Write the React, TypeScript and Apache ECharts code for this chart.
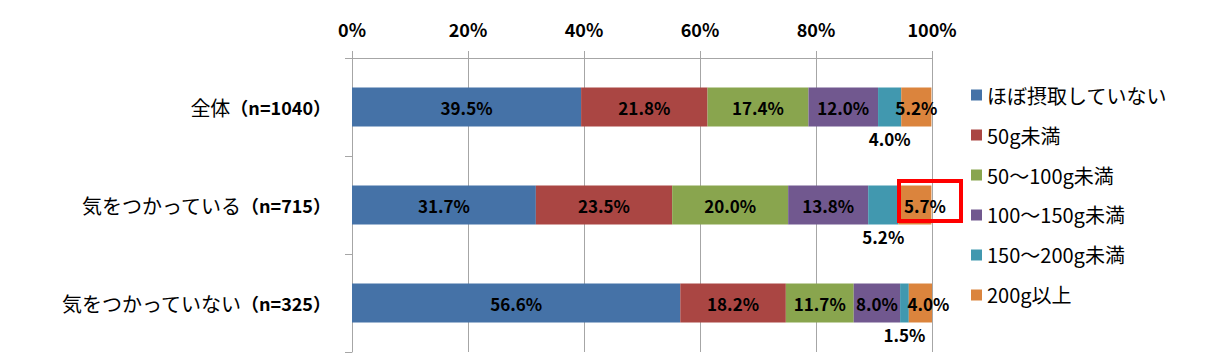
import React, { useEffect, useRef } from "react";
import * as echarts from "echarts";

const categories = ["全体（n=1040）", "気をつかっている（n=715）", "気をつかっていない（n=325）"];
const seriesNames = ["ほぼ摂取していない", "50g未満", "50～100g未満", "100～150g未満", "150～200g未満", "200g以上"];
const almostNone = [39.5, 31.7, 56.6];
const under50 = [21.8, 23.5, 18.2];
const from50to100 = [17.4, 20.0, 11.7];
const from100to150 = [12.0, 13.8, 8.0];
const from150to200 = [4.0, 5.2, 1.5];
const over200 = [5.2, 5.7, 4.0];
const colors = ["#4572A7", "#AA4643", "#89A54E", "#71588F", "#4198AF", "#DB843D"];
const xTicks = [0, 20, 40, 60, 80, 100];
// horizontal nudges of the last series' labels (style only)
const lastLabelShift = [0, 10, 8];

const FONT = "'Noto Sans CJK JP', 'Noto Sans', sans-serif";

export default function App() {
  const ref = useRef<HTMLDivElement>(null);
  useEffect(() => {
    const chart = echarts.init(ref.current!, null, { renderer: "svg" });
    const values = [almostNone, under50, from50to100, from100to150, from150to200, over200];
    const series = values.map((vals, i) => ({
      name: seriesNames[i],
      type: "bar",
      stack: "total",
      barWidth: 39,
      data:
        i === 5
          ? vals.map((v, j) => ({ value: v, label: { offset: [lastLabelShift[j], 0] } }))
          : vals,
      itemStyle: { color: colors[i] },
      label: {
        show: true,
        position: i === 4 ? "bottom" : "inside",
        distance: 3,
        formatter: (p: any) => Number(p.value).toFixed(1) + "%",
        color: "#000",
        fontFamily: FONT,
        fontSize: 17,
        fontWeight: "bold",
      },
    }));
    chart.setOption({
      animation: false,
      textStyle: { fontFamily: FONT },
      grid: { left: 352, right: 279, top: 58, bottom: 7 },
      legend: {
        orient: "vertical",
        left: 966,
        top: 80,
        itemWidth: 11,
        itemHeight: 11,
        itemGap: 20,
        icon: "rect",
        data: seriesNames,
        textStyle: { fontFamily: FONT, fontSize: 20, lineHeight: 18, color: "#000", padding: [0, 0, 0, 0] },
      },
      xAxis: {
        type: "value",
        position: "top",
        min: 0,
        max: 100,
        interval: 20,
        axisLine: { show: true, lineStyle: { color: "#A6A6A6" } },
        axisTick: { show: true, length: 7, inside: false, lineStyle: { color: "#A6A6A6" } },
        splitLine: { show: true, lineStyle: { color: "#A6A6A6" } },
        axisLabel: {
          margin: 20,
          formatter: (v: number) => (xTicks.includes(v) ? v + "%" : ""),
          color: "#000",
          fontFamily: FONT,
          fontSize: 18,
          fontWeight: "bold",
        },
      },
      yAxis: {
        type: "category",
        inverse: true,
        data: categories,
        axisLine: { show: true, lineStyle: { color: "#A6A6A6" } },
        axisTick: { show: true, length: 7, alignWithLabel: false, lineStyle: { color: "#A6A6A6" } },
        axisLabel: {
          margin: 21,
          color: "#000",
          formatter: (v: string) => {
            const i = v.indexOf("（");
            return `{a|${v.slice(0, i)}}{b|${v.slice(i)}}`;
          },
          rich: {
            a: { fontFamily: FONT, fontSize: 20, color: "#000" },
            b: { fontFamily: FONT, fontSize: 18, color: "#000", fontWeight: "bold" },
          },
        },
      },
      series,
      graphic: [
        {
          type: "rect",
          shape: { x: 899, y: 181, width: 62, height: 40 },
          style: { fill: "none", stroke: "#FF0000", lineWidth: 4 },
          z: 100,
        },
      ],
    });
    return () => chart.dispose();
  }, []);
  return <div ref={ref} style={{ position: "absolute", left: 0, top: 0, width: 1211, height: 359 }} />;
}
